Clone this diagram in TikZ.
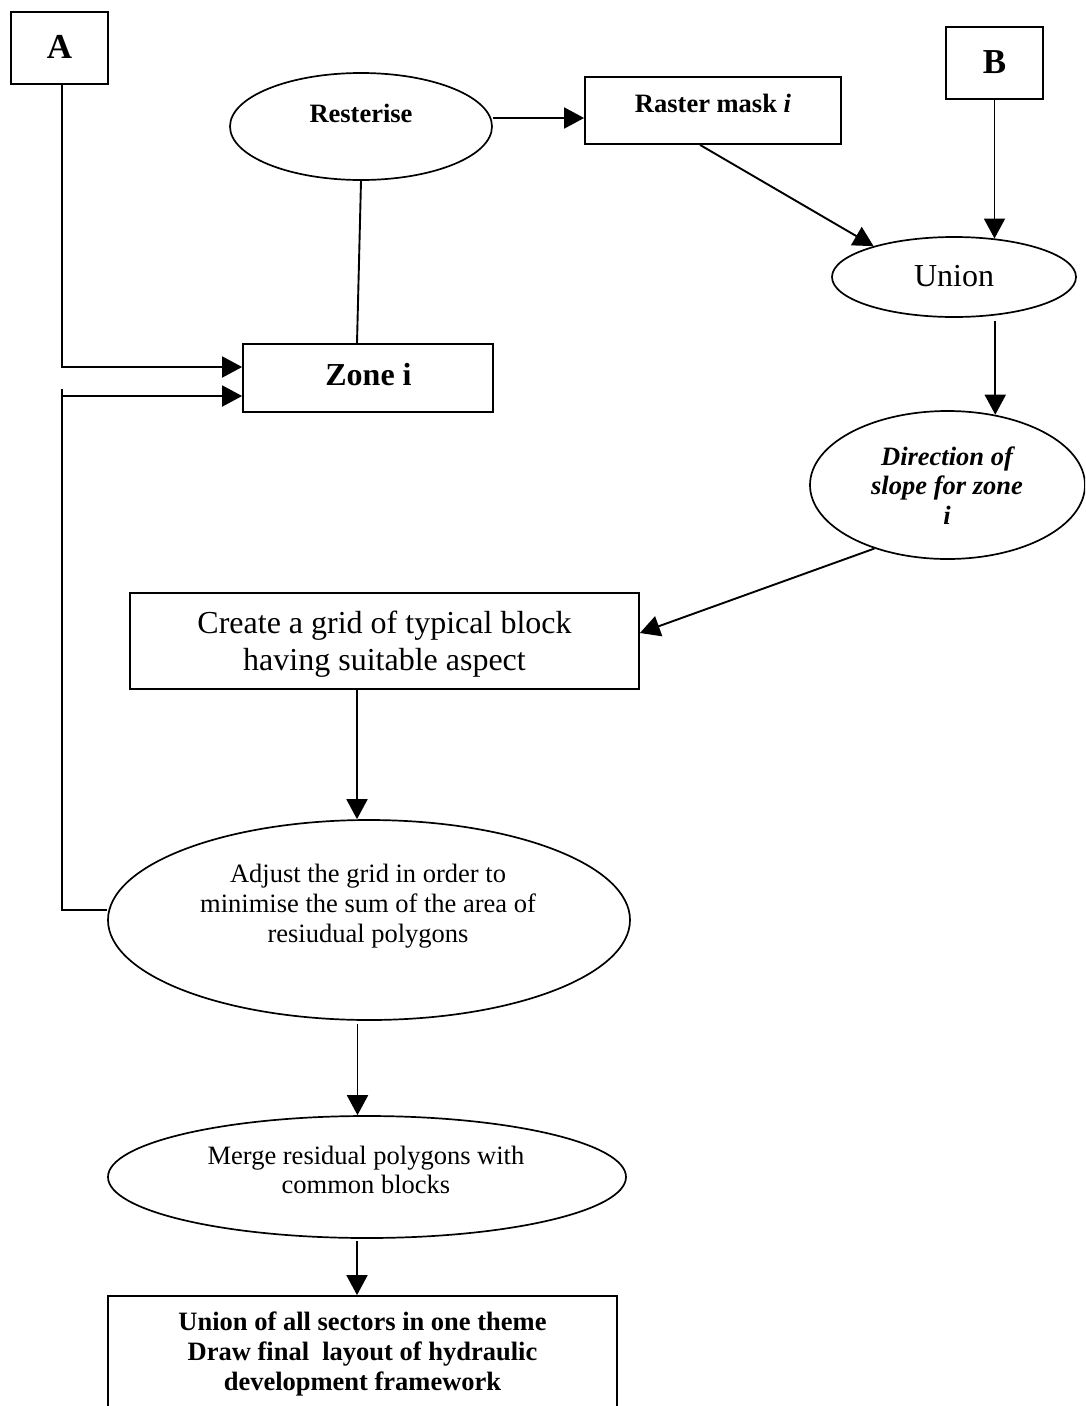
\documentclass[tikz,border=0pt]{standalone}
\usepackage{fontspec}
\setmainfont{Liberation Serif}
\usetikzlibrary{shapes.geometric,arrows.meta}
\begin{document}
\begin{tikzpicture}[x=1pt,y=-1pt,
  box/.style={draw, rectangle, inner sep=0pt, line width=1.8pt},
  oval/.style={draw, ellipse, inner sep=0pt, line width=1.7pt},
  lbl/.style={inner sep=0pt, align=center},
  big/.style={font=\fontsize{35}{40}\selectfont\bfseries},
  med/.style={font=\fontsize{26.5}{30}\selectfont},
  medb/.style={font=\fontsize{26.5}{30}\selectfont\bfseries},
  lrg/.style={font=\fontsize{32}{37}\selectfont},
  arr/.style={-{Triangle[length=20pt,width=21pt]}, line width=1.9pt},
  plain/.style={line width=1.9pt}]
\useasboundingbox (0,0) rectangle (1085,1406);
\clip (0,0) rectangle (1085,1406);

% boxes and ovals
\node[box, minimum width=97pt, minimum height=72pt] (A) at (59.5,48) {};
\node[lbl, big, anchor=base] (Atxt) at (59.5,58) {A};

\node[box, minimum width=97pt, minimum height=72pt] (B) at (994.5,63) {};
\node[lbl, big, anchor=base] (Btxt) at (994.5,73) {B};

\node[oval, minimum width=262pt, minimum height=107pt] (rest) at (361,126.5) {};
\node[lbl, medb, anchor=base] (resttxt) at (361,122) {Resterise};

\node[box, minimum width=256pt, minimum height=67pt] (raster) at (713,110.5) {};
\node[lbl, medb, anchor=base] (rastertxt) at (713,112) {Raster mask \textit{i}};

\node[box, minimum width=250pt, minimum height=68pt] (zone) at (368,378) {};
\node[lbl, font=\fontsize{32}{37}\selectfont\bfseries, anchor=base] (zonetxt) at (368.5,385) {Zone i};

\node[oval, minimum width=244pt, minimum height=80pt] (union) at (954,277) {};
\node[lbl, lrg, anchor=base] (uniontxt) at (954,286) {Union};

\node[oval, minimum width=275pt, minimum height=148pt] (dir) at (947.5,485) {};
\node[lbl, font=\fontsize{26.5}{29.5}\selectfont\bfseries\itshape] (dirtxt) at (947,485.4)
  {Direction of\\slope for zone\\i};

\node[box, minimum width=509pt, minimum height=96pt] (create) at (384.5,641) {};
\node[lbl, lrg] (createtxt) at (384.5,644)
  {Create a grid of typical block\\having suitable aspect};

\node[oval, minimum width=522pt, minimum height=200pt] (adjust) at (369,920) {};
\node[lbl, med] (adjusttxt) at (368,905.7)
  {Adjust the grid in order to\\minimise the sum of the area of\\resiudual polygons};

\node[oval, minimum width=518pt, minimum height=122pt] (merge) at (367,1177) {};
\node[lbl, font=\fontsize{26.5}{29}\selectfont] (mergetxt) at (366,1170)
  {Merge residual polygons with\\common blocks};

\node[box, minimum width=509pt, minimum height=134pt] (final) at (362.5,1363) {};
\node[lbl, medb] (finaltxt) at (362.5,1353.7)
  {Union of all sectors in one theme\\Draw final\ \ layout of hydraulic\\development framework};

% connectors
\draw[arr] ([xshift=2.5pt]A.south) |- ([yshift=11pt]zone.west);

\coordinate (looptop) at (62,389);
\coordinate (loopin) at (60.5,396);
\draw[plain] ([yshift=10pt]adjust.west) -| (looptop);
\draw[arr] (loopin) -- (loopin -| zone.west);

\coordinate (rr) at ([yshift=8.5pt]rest.east);
\draw[arr] (rr) -- (rr -| raster.west);

\draw[plain] (rest.south) -- ([xshift=-11pt]zone.north);

\draw[arr] ([xshift=-13pt]raster.south) -- (union.159);

\coordinate (bu) at (B.south |- union.43);
\draw[arr] (B.south) -- (bu);

\coordinate (ud) at ([yshift=-6pt]union.-43);
\draw[arr] (ud) -- (ud |- dir.56);

\draw[arr] (dir.221) -- ([yshift=8pt]create.east);

\coordinate (ca) at ([xshift=-27.5pt]create.south);
\draw[arr] (ca) -- (ca |- adjust.north);

\coordinate (am) at ([xshift=-11.5pt,yshift=-3pt]adjust.south);
\draw[arr] (am) -- (am |- merge.north);

\coordinate (mf) at ([xshift=-10pt,yshift=-2pt]merge.south);
\draw[arr] (mf) -- (mf |- final.north);
\end{tikzpicture}
\end{document}
